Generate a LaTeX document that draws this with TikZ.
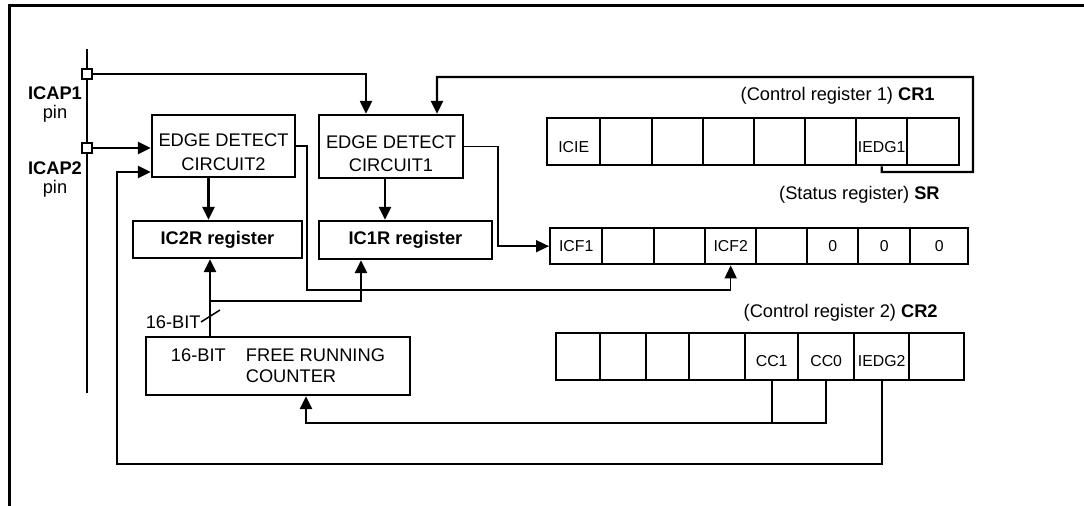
\documentclass[tikz,border=0pt]{standalone}
\usepackage{fontspec}
\setmainfont{Liberation Sans}
\usetikzlibrary{arrows.meta}
\tikzset{
    blk/.style={rectangle, draw, line width=1.35pt, inner sep=0pt, align=center, font=\fontsize{10.4}{13.6}\selectfont},
    regblk/.style={blk, font=\fontsize{10.4}{13.6}\selectfont\bfseries},
    cell/.style={rectangle, draw, line width=1.35pt, inner sep=0pt, anchor=north west, font=\fontsize{9}{11}\selectfont},
    lbl/.style={inner sep=0pt, font=\fontsize{10.4}{10.8}\selectfont},
    jn/.style={rectangle, draw, fill=white, line width=0.8pt, minimum size=0.2cm, inner sep=0pt},
    wire/.style={line width=1.35pt},
    thinwire/.style={line width=0.85pt},
    arr/.style={-{Triangle[length=0.26cm, width=0.24cm]}},
}

\begin{document}
\begin{tikzpicture}[x=0.02cm, y=-0.02cm]
    \useasboundingbox (0,0) rectangle (1084,506);
    % frame
    \draw[wire] (9.5,506) -- (9.5,5.5) -- (1084,5.5);

    % input pins
    \coordinate (pintop) at (87,49);
    \coordinate (pinbot) at (87,393);
    \draw[wire] (pintop) -- (pinbot);
    \node[jn] (icap1) at (87,74) {};
    \node[jn] (icap2) at (87,148) {};
    \node[lbl, align=center] (icap1lbl) at (55,105) {\textbf{ICAP1}\\pin};
    \node[lbl, align=center] (icap2lbl) at (55,180) {\textbf{ICAP2}\\pin};

    % blocks
    \node[blk, minimum width=2.86cm, minimum height=1.24cm] (edc2) at (223.5,146) {\rule{0pt}{14.5pt}EDGE DETECT\\CIRCUIT2};
    \node[blk, minimum width=2.88cm, minimum height=1.26cm] (edc1) at (391,146.5) {\rule{0pt}{15.5pt}EDGE DETECT\\CIRCUIT1};
    \node[regblk, minimum width=3.38cm, minimum height=0.74cm] (ic2r) at (217.5,239.5) {IC2R register};
    \node[regblk, minimum width=3.46cm, minimum height=0.76cm] (ic1r) at (405.5,240) {IC1R register};
    \node[blk, minimum width=5.28cm, minimum height=1.16cm, font=\fontsize{10.4}{12}\selectfont] (cnt) at (278,366)
        {16-BIT\hspace{1.1em}FREE RUNNING\\\hspace*{0.52cm}COUNTER};

    % registers
    \foreach \i/\xa/\xb/\txt in {1/546/599/ICIE, 2/599/651/, 3/651/702/, 4/702/753/,
                                 5/753/804/, 6/804/855/, 7/855/906/IEDG1, 8/906/958/}
        \node[cell, minimum width={(\xb-\xa)*0.02cm}, minimum height=0.94cm] (cr1-\i) at (\xa,117) {\rule{0pt}{12pt}\txt};
    \foreach \i/\xa/\xb/\txt in {1/549/601/ICF1, 2/601/653/, 3/653/704/, 4/704/755/ICF2,
                                 5/755/806/, 6/806/857/0, 7/857/909/0, 8/909/967/0}
        \node[cell, minimum width={(\xb-\xa)*0.02cm}, minimum height=0.72cm] (sr-\i) at (\xa,227) {\txt};
    \foreach \i/\xa/\xb/\txt in {1/555/599/, 2/599/645/, 3/645/688/, 4/688/744/,
                                 5/744/797/CC1, 6/797/853/CC0, 7/853/908/IEDG2, 8/908/963/}
        \node[cell, minimum width={(\xb-\xa)*0.02cm}, minimum height=0.94cm] (cr2-\i) at (\xa,332) {\rule{0pt}{11.5pt}\txt};

    \node[lbl, anchor=east] (cr1lbl) at (935,96) {(Control register 1) \textbf{CR1}};
    \node[lbl, anchor=east] (srlbl) at (940,195) {(Status register) \textbf{SR}};
    \node[lbl, anchor=east] (cr2lbl) at (938,313) {(Control register 2) \textbf{CR2}};

    % connections
    \draw[wire, arr] (icap1.east) -| ([xshift=-0.5cm]edc1.north);
    \draw[wire, arr] (icap2.east) -- (icap2.east -| edc2.west);
    \draw[wire, arr] (cr1-7.south) |- (973,172) |- (437,77) -- ([xshift=0.92cm]edc1.north);
    \draw[wire, arr] ([xshift=-0.3cm]edc2.south) -- ([xshift=-0.3cm]edc2.south |- ic2r.north);
    \draw[wire, arr] ([xshift=-0.12cm]edc1.south) -- ([xshift=-0.12cm]edc1.south |- ic1r.north);
    \draw[thinwire, arr] (edc2.east) -| (307,290) -| (sr-4.south);
    \draw[thinwire, arr] (edc1.east) -| ([xshift=-1.02cm]sr-1.west) -- (sr-1.west);

    % counter bus
    \coordinate (bus) at (210,301);
    \draw[wire, arr] (cnt.north -| bus) -- (ic2r.south -| bus);
    \draw[wire, arr] (bus) -| (361,0 |- ic1r.south);
    \node[lbl, anchor=east] (buslbl) at (201,322) {16-BIT};
    \draw[thinwire] (buslbl.east) -- ++(19,-12);

    % clock select and edge select feedback
    \coordinate (cntin) at ([xshift=0.56cm]cnt.south);
    \coordinate (ccbus) at (0,423);
    \draw[wire] (cr2-5.south) -- (cr2-5.south |- ccbus);
    \draw[wire, arr] (cr2-6.south) |- (cntin |- ccbus) -- (cntin);
    \coordinate (loopb) at (117,464);
    \coordinate (edc2in) at ([yshift=-0.52cm]edc2.west);
    \draw[wire, arr] (cr2-7.south) |- (loopb) |- (edc2in);
\end{tikzpicture}
\end{document}
